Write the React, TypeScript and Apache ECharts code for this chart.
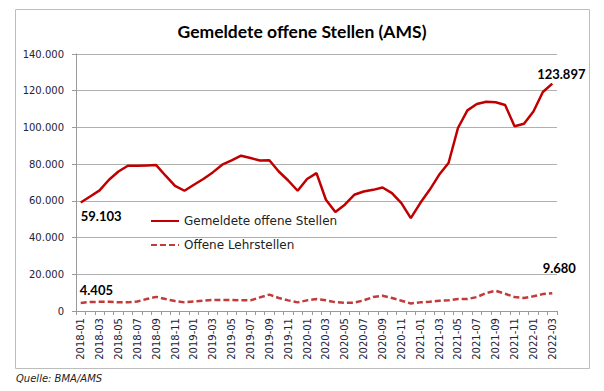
import React, { useEffect, useRef } from "react";
import * as echarts from "echarts";

const months: string[] = [];
for (let y = 2018; y <= 2022; y++) {
  for (let m = 1; m <= 12; m++) {
    if (y === 2022 && m > 3) break;
    months.push(`${y}-${m < 10 ? "0" + m : m}`);
  }
}

const offeneStellen = [
  59103, 62400, 65700, 71500, 76000, 79100, 79100, 79300, 79500, 73700, 68200, 65500,
  68800, 71900, 75500, 79700, 82000, 84600, 83300, 82000, 82100, 76000, 71100, 65500,
  71900, 75100, 60600, 53900, 57900, 63300, 65100, 66000, 67300, 64200, 58800, 50600,
  58800, 66000, 74200, 80600, 99700, 109300, 112800, 114000, 113700, 112200, 100600, 102000,
  108700, 119300, 123897,
];

const lehrstellen = [
  4405, 4900, 5000, 5000, 4700, 4700, 5200, 6500, 7700, 6500, 5400, 4700,
  5200, 5600, 6000, 6000, 6000, 5800, 5800, 7400, 8900, 7100, 5800, 4700,
  5800, 6500, 5800, 4800, 4500, 4500, 5800, 7600, 8300, 7100, 5600, 4100,
  4700, 5000, 5600, 5800, 6500, 6500, 7600, 9800, 11000, 9400, 7600, 7100,
  8000, 9200, 9680,
];

const yTicks = [0, 20000, 40000, 60000, 80000, 100000, 120000, 140000];

const fmt = (v: number) => (v === 0 ? "0" : v.toLocaleString("de-DE"));

export default function App() {
  const ref = useRef<HTMLDivElement>(null);
  useEffect(() => {
    if (!ref.current) return;
    const chart = echarts.init(ref.current, null, { renderer: "svg" });
    const axisTextColor = "#23233a";
    const last = months.length - 1;
    const labelStyle = {
      show: true,
      formatter: (p: any) => fmt(p.value),
      fontFamily: "Lato",
      fontWeight: "bold",
      fontSize: 13,
      color: "#000",
    };
    chart.setOption({
      animation: false,
      backgroundColor: "#ffffff",
      title: {
        text: "Gemeldete offene Stellen (AMS)",
        left: "center",
        top: 17,
        textStyle: { fontFamily: "Lato", fontWeight: "bold", fontSize: 17.5, color: "#000" },
      },
      graphic: [
        {
          type: "rect",
          shape: { x: 15.5, y: 9.5, width: 574, height: 359 },
          style: { fill: "none", stroke: "#bdbdbd", lineWidth: 1 },
          silent: true,
        },
        {
          type: "text",
          x: 16,
          y: 378,
          style: {
            text: "Quelle: BMA/AMS",
            fontFamily: "DejaVu Sans",
            fontStyle: "italic",
            fontSize: 10,
            fill: "#222",
            textVerticalAlign: "middle",
          },
        },
      ],
      legend: {
        orient: "vertical",
        left: 150,
        top: 215,
        padding: 0,
        itemWidth: 28,
        itemHeight: 14,
        itemGap: 12,
        itemStyle: { opacity: 0 },
        textStyle: { fontFamily: "DejaVu Sans", fontSize: 12, color: "#222" },
        data: ["Gemeldete offene Stellen", "Offene Lehrstellen"],
      },
      grid: { left: 76, top: 54, width: 481, height: 257 },
      xAxis: {
        type: "category",
        data: months,
        boundaryGap: true,
        axisLine: { lineStyle: { color: "#9a9a9a" } },
        axisTick: { show: true, interval: 0, length: 4, lineStyle: { color: "#9a9a9a" } },
        axisLabel: {
          interval: 1,
          rotate: 90,
          margin: 7,
          fontFamily: "DejaVu Sans",
          fontSize: 10,
          color: axisTextColor,
        },
      },
      yAxis: {
        type: "value",
        min: yTicks[0],
        max: yTicks[yTicks.length - 1],
        interval: 20000,
        axisLine: { show: true, lineStyle: { color: "#9a9a9a" } },
        axisTick: { show: true, length: 4, lineStyle: { color: "#9a9a9a" } },
        splitLine: { lineStyle: { color: "#b0b0b0", width: 1 } },
        axisLabel: {
          formatter: (v: number) => fmt(v),
          margin: 12,
          fontFamily: "DejaVu Sans",
          fontSize: 10,
          color: axisTextColor,
        },
      },
      series: [
        {
          name: "Gemeldete offene Stellen",
          type: "line",
          data: offeneStellen,
          showSymbol: false,
          symbol: "none",
          color: "#c00000",
          lineStyle: { color: "#c00000", width: 2.5 },
          markPoint: {
            symbol: "circle",
            symbolSize: 0,
            data: [
              {
                coord: [months[0], offeneStellen[0]],
                value: offeneStellen[0],
                label: { position: "bottom", align: "left", distance: 7, offset: [0, 0] },
              },
              {
                coord: [months[last], offeneStellen[last]],
                value: offeneStellen[last],
                label: { position: "top", distance: 3, offset: [9, 0] },
              },
            ],
            label: labelStyle,
          },
        },
        {
          name: "Offene Lehrstellen",
          type: "line",
          data: lehrstellen,
          showSymbol: false,
          symbol: "none",
          color: "#c23b3b",
          lineStyle: { color: "#c23b3b", width: 2.5, type: [6, 3] },
          markPoint: {
            symbol: "circle",
            symbolSize: 0,
            data: [
              {
                coord: [months[0], lehrstellen[0]],
                value: lehrstellen[0],
                label: { position: "top", align: "left", distance: 6, offset: [-1, 0] },
              },
              {
                coord: [months[last], lehrstellen[last]],
                value: lehrstellen[last],
                label: { position: "top", distance: 19, offset: [7, 0] },
              },
            ],
            label: labelStyle,
          },
        },
      ],
    });
    return () => chart.dispose();
  }, []);
  return (
    <div
      ref={ref}
      style={{ position: "absolute", left: 0, top: 0, width: 604, height: 391 }}
    />
  );
}
